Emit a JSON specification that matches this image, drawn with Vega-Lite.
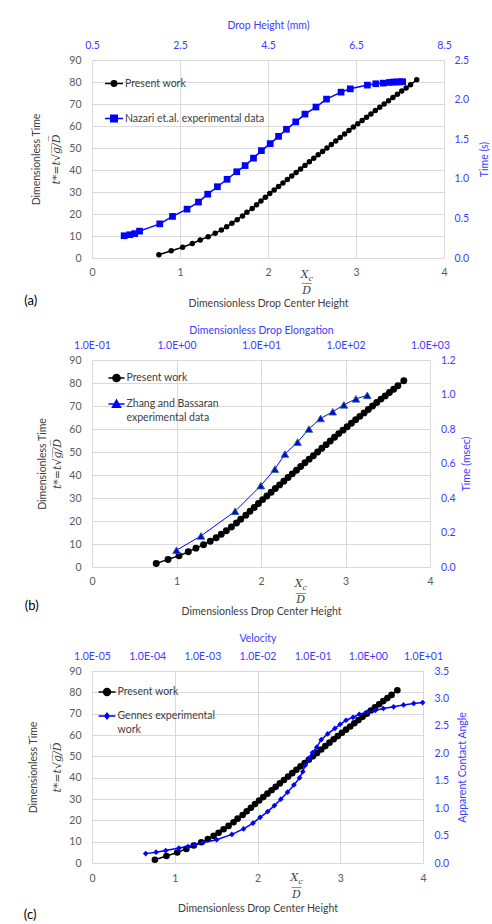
{
  "$schema": "https://vega.github.io/schema/vega-lite/v6.json",
  "background": "white",
  "padding": {"left": 23, "top": 20, "right": 0, "bottom": 0},
  "spacing": 16,
  "config": {
    "font": "Lato",
    "view": {"stroke": null},
    "axis": {"domain": false, "ticks": false, "labelFontSize": 10.5, "titleFontSize": 10.5, "titleFontWeight": "normal", "labelColor": "#595959", "titleColor": "#404040", "gridColor": "#d9d9d9", "gridWidth": 1, "labelFlush": false, "labelOverlap": false, "labelBound": false},
    "legend": {"labelFontSize": 10.5, "labelColor": "#404040", "labelLimit": 300},
    "title": {"fontSize": 13, "fontWeight": "normal", "color": "#000000", "font": "Lato"}
  },
  "resolve": {"scale": {"color": "independent"}, "legend": {"color": "independent"}},
  "datasets": {
    "present": [
      {"x": 0.76, "t": 1.5}, {"x": 0.90, "t": 3.3}, {"x": 1.03, "t": 4.9}, {"x": 1.14, "t": 6.6}, {"x": 1.23, "t": 8.2},
      {"x": 1.32, "t": 9.7}, {"x": 1.40, "t": 11.2}, {"x": 1.47, "t": 12.7}, {"x": 1.53, "t": 14.2}, {"x": 1.59, "t": 15.8},
      {"x": 1.65, "t": 17.4}, {"x": 1.71, "t": 19.1}, {"x": 1.76, "t": 20.8}, {"x": 1.82, "t": 22.5}, {"x": 1.87, "t": 24.2},
      {"x": 1.92, "t": 25.9}, {"x": 1.97, "t": 27.6}, {"x": 2.02, "t": 29.3}, {"x": 2.07, "t": 30.9}, {"x": 2.12, "t": 32.5},
      {"x": 2.17, "t": 34.1}, {"x": 2.22, "t": 35.7}, {"x": 2.27, "t": 37.3}, {"x": 2.32, "t": 38.9}, {"x": 2.37, "t": 40.5},
      {"x": 2.42, "t": 42.1}, {"x": 2.47, "t": 43.7}, {"x": 2.52, "t": 45.3}, {"x": 2.57, "t": 46.9}, {"x": 2.62, "t": 48.4},
      {"x": 2.67, "t": 50.0}, {"x": 2.72, "t": 51.6}, {"x": 2.77, "t": 53.2}, {"x": 2.82, "t": 54.8}, {"x": 2.87, "t": 56.4},
      {"x": 2.92, "t": 58.0}, {"x": 2.97, "t": 59.5}, {"x": 3.02, "t": 61.0}, {"x": 3.07, "t": 62.5}, {"x": 3.12, "t": 64.0},
      {"x": 3.17, "t": 65.5}, {"x": 3.22, "t": 67.0}, {"x": 3.27, "t": 68.5}, {"x": 3.32, "t": 70.0}, {"x": 3.37, "t": 71.5},
      {"x": 3.42, "t": 73.0}, {"x": 3.47, "t": 74.4}, {"x": 3.52, "t": 75.9}, {"x": 3.57, "t": 77.3}, {"x": 3.62, "t": 78.8},
      {"x": 3.69, "t": 81.0}
    ],
    "nazari": [
      {"h": 1.23, "s": 0.281}, {"h": 1.36, "s": 0.294}, {"h": 1.47, "s": 0.308}, {"h": 1.58, "s": 0.339}, {"h": 2.04, "s": 0.431},
      {"h": 2.33, "s": 0.525}, {"h": 2.66, "s": 0.617}, {"h": 2.92, "s": 0.706}, {"h": 3.13, "s": 0.806}, {"h": 3.35, "s": 0.900},
      {"h": 3.57, "s": 0.994}, {"h": 3.79, "s": 1.089}, {"h": 3.98, "s": 1.167}, {"h": 4.17, "s": 1.261}, {"h": 4.35, "s": 1.356},
      {"h": 4.55, "s": 1.444}, {"h": 4.74, "s": 1.536}, {"h": 4.92, "s": 1.625}, {"h": 5.13, "s": 1.719}, {"h": 5.34, "s": 1.817},
      {"h": 5.59, "s": 1.906}, {"h": 5.83, "s": 2.006}, {"h": 6.16, "s": 2.094}, {"h": 6.37, "s": 2.136}, {"h": 6.76, "s": 2.183},
      {"h": 6.95, "s": 2.200}, {"h": 7.12, "s": 2.208}, {"h": 7.26, "s": 2.217}, {"h": 7.34, "s": 2.222}, {"h": 7.42, "s": 2.222},
      {"h": 7.50, "s": 2.225}, {"h": 7.56, "s": 2.225}
    ],
    "zhang": [
      {"e": 1.0, "ms": 0.097}, {"e": 1.95, "ms": 0.18}, {"e": 4.94, "ms": 0.323}, {"e": 9.95, "ms": 0.472}, {"e": 14.6, "ms": 0.567},
      {"e": 19.2, "ms": 0.655}, {"e": 27.1, "ms": 0.724}, {"e": 36.9, "ms": 0.80}, {"e": 50.7, "ms": 0.861}, {"e": 70.5, "ms": 0.90},
      {"e": 95.7, "ms": 0.94}, {"e": 133, "ms": 0.975}, {"e": 181, "ms": 0.995}
    ],
    "gennes": [
      {"v": 0.0000941, "a": 0.171}, {"v": 0.000145, "a": 0.198}, {"v": 0.000217, "a": 0.226}, {"v": 0.000378, "a": 0.272},
      {"v": 0.00055, "a": 0.299}, {"v": 0.000737, "a": 0.331}, {"v": 0.001045, "a": 0.373}, {"v": 0.00182, "a": 0.424},
      {"v": 0.00343, "a": 0.521}, {"v": 0.00558, "a": 0.622}, {"v": 0.0083, "a": 0.727}, {"v": 0.01117, "a": 0.832},
      {"v": 0.01529, "a": 0.937}, {"v": 0.02023, "a": 1.046}, {"v": 0.0265, "a": 1.163}, {"v": 0.035, "a": 1.291},
      {"v": 0.0457, "a": 1.423}, {"v": 0.0578, "a": 1.552}, {"v": 0.0664, "a": 1.664}, {"v": 0.0726, "a": 1.777},
      {"v": 0.0848, "a": 1.909}, {"v": 0.0994, "a": 2.014}, {"v": 0.1186, "a": 2.112}, {"v": 0.1429, "a": 2.248},
      {"v": 0.187, "a": 2.353}, {"v": 0.2527, "a": 2.454}, {"v": 0.315, "a": 2.528}, {"v": 0.4027, "a": 2.602},
      {"v": 0.54, "a": 2.656}, {"v": 0.702, "a": 2.711}, {"v": 0.972, "a": 2.749}, {"v": 1.363, "a": 2.781},
      {"v": 1.912, "a": 2.816}, {"v": 2.934, "a": 2.847}, {"v": 4.441, "a": 2.882}, {"v": 6.79, "a": 2.909},
      {"v": 9.83, "a": 2.924}
    ]
  },
  "vconcat": [
    {
      "width": 352, "height": 198,
      "title": {"text": "(a)", "orient": "bottom", "anchor": "start", "frame": "bounds", "offset": -14, "dx": -7},
      "resolve": {"scale": {"x": "independent", "y": "independent"}},
      "layer": [
        {
          "data": {"name": "present"},
          "encoding": {
            "x": {"field": "x", "type": "quantitative", "scale": {"domain": [0, 4], "nice": false}, "axis": {"orient": "bottom", "values": [0, 1, 2, 3, 4], "title": "Dimensionless Drop Center Height", "grid": true, "labelPadding": 9, "titlePadding": 21}},
            "y": {"field": "t", "type": "quantitative", "scale": {"domain": [0, 90], "nice": false}, "axis": {"orient": "left", "values": [0, 10, 20, 30, 40, 50, 60, 70, 80, 90], "title": "Dimensionless Time", "grid": true, "labelPadding": 11, "titlePadding": 27.5}},
            "color": {"datum": "Present work", "type": "nominal", "scale": {"domain": ["Present work", "Nazari et.al. experimental data"], "range": ["#000000", "#0000ff"]},
              "legend": {"title": null, "orient": "none", "legendX": 12, "legendY": 13.5, "symbolSize": 324, "rowPadding": 19, "labelOffset": 1,
                "encode": {"symbols": {"update": {
                  "shape": {"signal": "datum.value === 'Present work' ? 'M-1,0L1,0M-0.3,0A0.3,0.3 0 1,1 0.3,0A0.3,0.3 0 1,1 -0.3,0Z' : 'M-1,0L1,0M-0.36,-0.36L0.36,-0.36L0.36,0.36L-0.36,0.36Z'"},
                  "stroke": {"signal": "datum.value === 'Present work' ? '#000000' : '#0000ff'"},
                  "fill": {"signal": "datum.value === 'Present work' ? '#000000' : '#0000ff'"},
                  "strokeWidth": {"value": 1.5}, "opacity": {"value": 1}, "fillOpacity": {"value": 1}, "strokeOpacity": {"value": 1}}}}}}
          },
          "layer": [
            {"mark": {"type": "line", "strokeWidth": 1.5}},
            {"mark": {"type": "point", "shape": "circle", "filled": true, "size": 30, "opacity": 1}}
          ]
        },
        {
          "data": {"name": "nazari"},
          "encoding": {
            "x": {"field": "h", "type": "quantitative", "scale": {"domain": [0.5, 8.5], "nice": false}, "axis": {"orient": "top", "values": [0.5, 2.5, 4.5, 6.5, 8.5], "format": ".1f", "title": "Drop Height (mm)", "grid": false, "labelColor": "#3c3cff", "titleColor": "#3c3cff", "labelPadding": 10, "titlePadding": 10}},
            "y": {"field": "s", "type": "quantitative", "scale": {"domain": [0, 2.5], "nice": false}, "axis": {"orient": "right", "values": [0, 0.5, 1, 1.5, 2, 2.5], "format": ".1f", "title": "Time (s)", "grid": false, "labelColor": "#3c3cff", "titleColor": "#3c3cff", "titleAngle": 270, "titleBaseline": "top", "labelPadding": 10, "titlePadding": 11}},
            "color": {"datum": "Nazari et.al. experimental data", "type": "nominal"}
          },
          "layer": [
            {"mark": {"type": "line", "strokeWidth": 1.5}},
            {"mark": {"type": "point", "shape": "square", "filled": true, "size": 45, "opacity": 1}}
          ]
        },
        {
          "data": {"values": [{}]},
          "encoding": {
            "x": {"datum": 2.44, "type": "quantitative", "scale": {"domain": [0, 4], "nice": false}, "axis": null},
            "y": {"datum": 0, "type": "quantitative", "scale": {"domain": [0, 90], "nice": false}, "axis": {"orient": "left", "title": "t*=t√g̅/̅D̅", "labels": false, "grid": false, "titleFont": "DejaVu Serif", "titleFontStyle": "italic", "titleFontSize": 11, "titlePadding": 31}}
          },
          "layer": [
            {"mark": {"type": "text", "text": "X", "font": "DejaVu Serif", "fontStyle": "italic", "fontSize": 11, "dx": -2, "dy": 17, "color": "#404040"}},
            {"mark": {"type": "text", "text": "c", "font": "DejaVu Serif", "fontStyle": "italic", "fontSize": 8, "dx": 4, "dy": 21, "color": "#404040"}},
            {"mark": {"type": "text", "text": "—", "font": "DejaVu Serif", "fontSize": 11, "dy": 25, "color": "#404040"}},
            {"mark": {"type": "text", "text": "D", "font": "DejaVu Serif", "fontStyle": "italic", "fontSize": 11, "dy": 33, "color": "#404040"}}
          ]
        }
      ]
    },
    {
      "width": 338, "height": 207,
      "title": {"text": "(b)", "orient": "bottom", "anchor": "start", "frame": "bounds", "offset": -17.5, "dx": -13},
      "resolve": {"scale": {"x": "independent", "y": "independent"}},
      "layer": [
        {
          "data": {"name": "present"},
          "encoding": {
            "x": {"field": "x", "type": "quantitative", "scale": {"domain": [0, 4], "nice": false}, "axis": {"orient": "bottom", "values": [0, 1, 2, 3, 4], "title": "Dimensionless Drop Center Height", "grid": true, "labelPadding": 9.5, "titlePadding": 19.5}},
            "y": {"field": "t", "type": "quantitative", "scale": {"domain": [0, 90], "nice": false}, "axis": {"orient": "left", "values": [0, 10, 20, 30, 40, 50, 60, 70, 80, 90], "title": "Dimensionless Time", "grid": true, "labelPadding": 11, "titlePadding": 21}},
            "color": {"datum": "Present work", "type": "nominal", "scale": {"domain": ["Present work", "Zhang and Bassaran experimental data"], "range": ["#000000", "#0000ff"]},
              "legend": {"title": null, "orient": "none", "legendX": 15.5, "legendY": 9, "symbolSize": 256, "rowPadding": 10, "labelOffset": 1,
                "labelExpr": "datum.label == 'Zhang and Bassaran experimental data' ? ['Zhang and Bassaran', 'experimental data'] : datum.label",
                "encode": {"labels": {"update": {"lineHeight": {"value": 14}}}, "symbols": {"update": {
                  "shape": {"signal": "datum.value === 'Present work' ? 'M-1,0L1,0M-0.45,0A0.45,0.45 0 1,1 0.45,0A0.45,0.45 0 1,1 -0.45,0Z' : 'M-1,0L1,0M0,-0.5L0.5,0.4L-0.5,0.4Z'"},
                  "stroke": {"signal": "datum.value === 'Present work' ? '#000000' : '#0000ff'"},
                  "fill": {"signal": "datum.value === 'Present work' ? '#000000' : '#0000ff'"},
                  "strokeWidth": {"value": 1.5}, "opacity": {"value": 1}, "fillOpacity": {"value": 1}, "strokeOpacity": {"value": 1}}}}}}
          },
          "layer": [
            {"mark": {"type": "line", "strokeWidth": 1.5}},
            {"mark": {"type": "point", "shape": "circle", "filled": true, "size": 48, "opacity": 1}}
          ]
        },
        {
          "data": {"name": "zhang"},
          "encoding": {
            "x": {"field": "e", "type": "quantitative", "scale": {"type": "log", "domain": [0.1, 1000], "nice": false}, "axis": {"orient": "top", "values": [0.1, 1, 10, 100, 1000], "labelExpr": "'1.0E' + (round(log(datum.value)/LN10) < 0 ? '-' : '+') + (abs(round(log(datum.value)/LN10)) < 10 ? '0' : '') + abs(round(log(datum.value)/LN10))", "title": "Dimensionless Drop Elongation", "grid": false, "labelColor": "#3c3cff", "titleColor": "#3c3cff", "labelPadding": 10, "titlePadding": 4.5}},
            "y": {"field": "ms", "type": "quantitative", "scale": {"domain": [0, 1.2], "nice": false}, "axis": {"orient": "right", "values": [0, 0.2, 0.4, 0.6, 0.8, 1.0, 1.2], "format": ".1f", "title": "Time (msec)", "grid": false, "labelColor": "#3c3cff", "titleColor": "#3c3cff", "titleAngle": 270, "titleBaseline": "top", "labelPadding": 10.5, "titlePadding": 6}},
            "color": {"datum": "Zhang and Bassaran experimental data", "type": "nominal"}
          },
          "layer": [
            {"mark": {"type": "line", "strokeWidth": 1}},
            {"mark": {"type": "point", "shape": "triangle-up", "filled": true, "size": 60, "opacity": 1, "stroke": "#2e7d32", "strokeWidth": 0.8}}
          ]
        },
        {
          "data": {"values": [{}]},
          "encoding": {
            "x": {"datum": 2.47, "type": "quantitative", "scale": {"domain": [0, 4], "nice": false}, "axis": null},
            "y": {"datum": 0, "type": "quantitative", "scale": {"domain": [0, 90], "nice": false}, "axis": {"orient": "left", "title": "t*=t√g̅/̅D̅", "labels": false, "grid": false, "titleFont": "DejaVu Serif", "titleFontStyle": "italic", "titleFontSize": 11, "titlePadding": 29.5}}
          },
          "layer": [
            {"mark": {"type": "text", "text": "X", "font": "DejaVu Serif", "fontStyle": "italic", "fontSize": 11, "dx": -2, "dy": 17, "color": "#404040"}},
            {"mark": {"type": "text", "text": "c", "font": "DejaVu Serif", "fontStyle": "italic", "fontSize": 8, "dx": 4, "dy": 21, "color": "#404040"}},
            {"mark": {"type": "text", "text": "—", "font": "DejaVu Serif", "fontSize": 11, "dy": 26, "color": "#404040"}},
            {"mark": {"type": "text", "text": "D", "font": "DejaVu Serif", "fontStyle": "italic", "fontSize": 11, "dy": 33, "color": "#404040"}}
          ]
        }
      ]
    },
    {
      "width": 331, "height": 192,
      "title": {"text": "(c)", "orient": "bottom", "anchor": "start", "frame": "bounds", "offset": -5.5, "dx": -5},
      "resolve": {"scale": {"x": "independent", "y": "independent"}},
      "layer": [
        {
          "data": {"name": "present"},
          "encoding": {
            "x": {"field": "x", "type": "quantitative", "scale": {"domain": [0, 4], "nice": false}, "axis": {"orient": "bottom", "values": [0, 1, 2, 3, 4], "title": "Dimensionless Drop Center Height", "grid": true, "labelPadding": 10, "titlePadding": 20}},
            "y": {"field": "t", "type": "quantitative", "scale": {"domain": [0, 90], "nice": false}, "axis": {"orient": "left", "values": [0, 10, 20, 30, 40, 50, 60, 70, 80, 90], "title": "Dimensionless Time", "grid": true, "labelPadding": 11, "titlePadding": 30}},
            "color": {"datum": "Present work", "type": "nominal", "scale": {"domain": ["Present work", "Gennes experimental work"], "range": ["#000000", "#0000ff"]},
              "legend": {"title": null, "orient": "none", "legendX": 5.5, "legendY": 11.5, "symbolSize": 289, "rowPadding": 8, "labelOffset": 1,
                "labelExpr": "datum.label == 'Gennes experimental work' ? ['Gennes experimental', 'work'] : datum.label",
                "encode": {"labels": {"update": {"lineHeight": {"value": 14}}}, "symbols": {"update": {
                  "shape": {"signal": "datum.value === 'Present work' ? 'M-1,0L1,0M-0.4,0A0.4,0.4 0 1,1 0.4,0A0.4,0.4 0 1,1 -0.4,0Z' : 'M-1,0L1,0M0,-0.32L0.26,0L0,0.32L-0.26,0Z'"},
                  "stroke": {"signal": "datum.value === 'Present work' ? '#000000' : '#0000ff'"},
                  "fill": {"signal": "datum.value === 'Present work' ? '#000000' : '#0000ff'"},
                  "strokeWidth": {"value": 1.5}, "opacity": {"value": 1}, "fillOpacity": {"value": 1}, "strokeOpacity": {"value": 1}}}}}}
          },
          "layer": [
            {"mark": {"type": "line", "strokeWidth": 1.5}},
            {"mark": {"type": "point", "shape": "circle", "filled": true, "size": 44, "opacity": 1}}
          ]
        },
        {
          "data": {"name": "gennes"},
          "encoding": {
            "x": {"field": "v", "type": "quantitative", "scale": {"type": "log", "domain": [0.00001, 10], "nice": false}, "axis": {"orient": "top", "values": [0.00001, 0.0001, 0.001, 0.01, 0.1, 1, 10], "labelExpr": "'1.0E' + (round(log(datum.value)/LN10) < 0 ? '-' : '+') + (abs(round(log(datum.value)/LN10)) < 10 ? '0' : '') + abs(round(log(datum.value)/LN10))", "title": "Velocity", "grid": false, "labelColor": "#3c3cff", "titleColor": "#3c3cff", "labelPadding": 10, "titlePadding": 8}},
            "y": {"field": "a", "type": "quantitative", "scale": {"domain": [0, 3.5], "nice": false}, "axis": {"orient": "right", "values": [0, 0.5, 1, 1.5, 2, 2.5, 3, 3.5], "format": ".1f", "title": "Apparent  Contact Angle", "grid": false, "labelColor": "#3c3cff", "titleColor": "#3c3cff", "titleAngle": 270, "titleBaseline": "top", "labelPadding": 11, "titlePadding": 9}},
            "color": {"datum": "Gennes experimental work", "type": "nominal"}
          },
          "layer": [
            {"mark": {"type": "line", "strokeWidth": 1.5}},
            {"mark": {"type": "point", "shape": "diamond", "filled": true, "size": 32, "opacity": 1}}
          ]
        },
        {
          "data": {"values": [{}]},
          "encoding": {
            "x": {"datum": 2.47, "type": "quantitative", "scale": {"domain": [0, 4], "nice": false}, "axis": null},
            "y": {"datum": 0, "type": "quantitative", "scale": {"domain": [0, 90], "nice": false}, "axis": {"orient": "left", "title": "t*=t√g̅/̅D̅", "labels": false, "grid": false, "titleFont": "DejaVu Serif", "titleFontStyle": "italic", "titleFontSize": 11, "titlePadding": 29.5}}
          },
          "layer": [
            {"mark": {"type": "text", "text": "X", "font": "DejaVu Serif", "fontStyle": "italic", "fontSize": 11, "dx": -2, "dy": 15, "color": "#404040"}},
            {"mark": {"type": "text", "text": "c", "font": "DejaVu Serif", "fontStyle": "italic", "fontSize": 8, "dx": 4, "dy": 19, "color": "#404040"}},
            {"mark": {"type": "text", "text": "—", "font": "DejaVu Serif", "fontSize": 11, "dy": 24, "color": "#404040"}},
            {"mark": {"type": "text", "text": "D", "font": "DejaVu Serif", "fontStyle": "italic", "fontSize": 11, "dy": 32, "color": "#404040"}}
          ]
        }
      ]
    }
  ]
}
